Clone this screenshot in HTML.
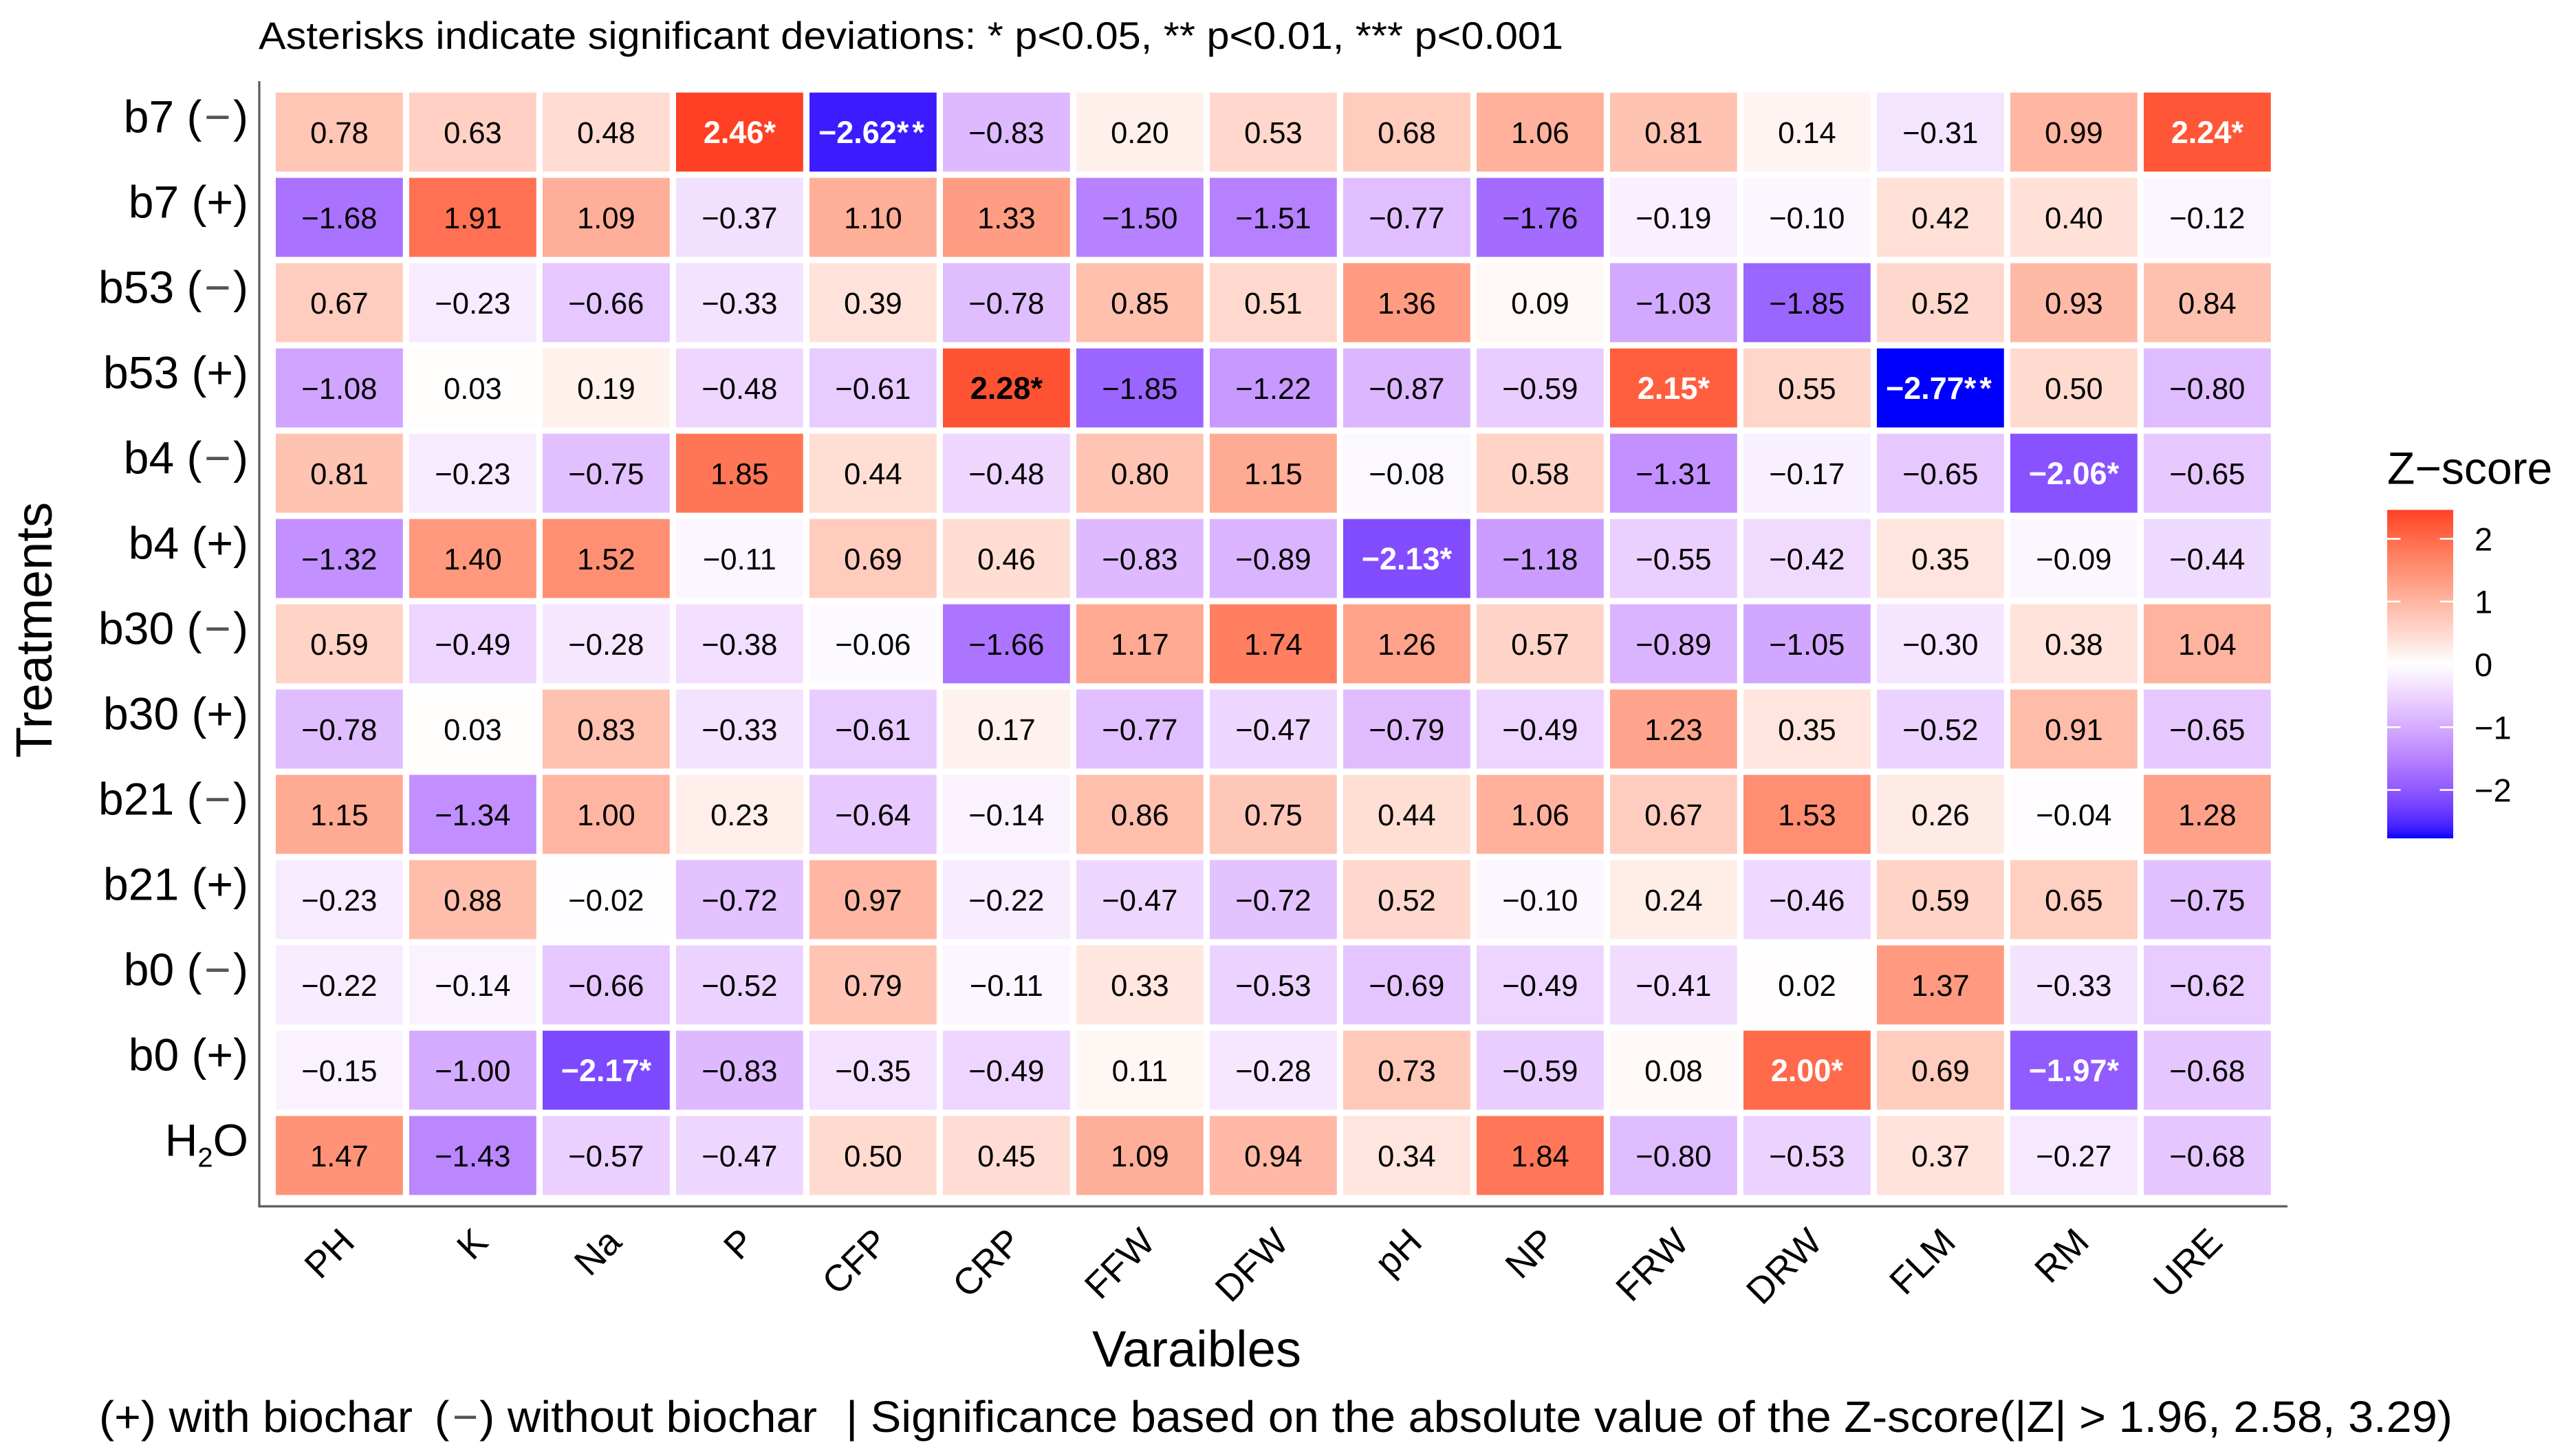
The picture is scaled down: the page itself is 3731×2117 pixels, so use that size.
<!DOCTYPE html>
<html lang="en">
<head>
<meta charset="utf-8">
<title>Z-score heatmap of treatments and variables</title>
<style>
html,body{margin:0;padding:0;background:#fff;}
svg{display:block;}
text{font-family:"Liberation Sans",Arial,sans-serif;fill:#000;}
</style>
</head>
<body>
<svg id="chart" xmlns="http://www.w3.org/2000/svg" width="3731" height="2117" viewBox="0 0 3731 2117">
  <defs>
    <linearGradient id="legend-gradient" x1="0" y1="0" x2="0" y2="1"></linearGradient>
  </defs>
  <rect x="0" y="0" width="3731" height="2117" fill="#ffffff"/>
  <text x="376" y="71" font-size="56" textLength="1897" lengthAdjust="spacingAndGlyphs">Asterisks indicate significant deviations: * p&lt;0.05, ** p&lt;0.01, *** p&lt;0.001</text>
  <g id="cells"></g>
  <g id="cell-values"></g>
  <line x1="377" y1="118" x2="377" y2="1755.5" stroke="#5c5c5c" stroke-width="3.2"/>
  <line x1="375.5" y1="1754" x2="3326" y2="1754" stroke="#5c5c5c" stroke-width="3.2"/>
  <g id="y-ticks"></g>
  <g id="x-ticks"></g>
  <text transform="translate(75,916) rotate(-90)" text-anchor="middle" font-size="74" textLength="372" lengthAdjust="spacingAndGlyphs">Treatments</text>
  <text x="1740" y="1987" text-anchor="middle" font-size="74" textLength="304" lengthAdjust="spacingAndGlyphs">Varaibles</text>
  <text x="144" y="2082" font-size="64" textLength="456" lengthAdjust="spacingAndGlyphs">(+) with biochar</text>
  <text x="632" y="2082" font-size="64">(</text>
  <text x="658" y="2082" font-size="64" style="fill:#555555">−</text>
  <text x="697" y="2082" font-size="64" textLength="491" lengthAdjust="spacingAndGlyphs">) without biochar</text>
  <text x="1230" y="2082" font-size="64" textLength="2336" lengthAdjust="spacingAndGlyphs">| Significance based on the absolute value of the Z-score(|Z| &gt; 1.96, 2.58, 3.29)</text>
  <text x="3471" y="703.5" font-size="66">Z−score</text>
  <rect id="legend-bar" x="3471" width="96" fill="url(#legend-gradient)"/>
  <g id="legend-ticks"></g>
</svg>
<script>
// ---------- Categories ----------
const rowLabels = ['b7 (−)','b7 (+)','b53 (−)','b53 (+)','b4 (−)','b4 (+)','b30 (−)','b30 (+)','b21 (−)','b21 (+)','b0 (−)','b0 (+)','H₂O'];
const colLabels = ['PH','K','Na','P','CFP','CRP','FFW','DFW','pH','NP','FRW','DRW','FLM','RM','URE'];
const legendTickValues = [2,1,0,-1,-2];

// ---------- Z-score values, one array per treatment ----------
const zB7Minus  = [0.78,0.63,0.48,2.46,-2.62,-0.83,0.20,0.53,0.68,1.06,0.81,0.14,-0.31,0.99,2.24];
const zB7Plus   = [-1.68,1.91,1.09,-0.37,1.10,1.33,-1.50,-1.51,-0.77,-1.76,-0.19,-0.10,0.42,0.40,-0.12];
const zB53Minus = [0.67,-0.23,-0.66,-0.33,0.39,-0.78,0.85,0.51,1.36,0.09,-1.03,-1.85,0.52,0.93,0.84];
const zB53Plus  = [-1.08,0.03,0.19,-0.48,-0.61,2.28,-1.85,-1.22,-0.87,-0.59,2.15,0.55,-2.77,0.50,-0.80];
const zB4Minus  = [0.81,-0.23,-0.75,1.85,0.44,-0.48,0.80,1.15,-0.08,0.58,-1.31,-0.17,-0.65,-2.06,-0.65];
const zB4Plus   = [-1.32,1.40,1.52,-0.11,0.69,0.46,-0.83,-0.89,-2.13,-1.18,-0.55,-0.42,0.35,-0.09,-0.44];
const zB30Minus = [0.59,-0.49,-0.28,-0.38,-0.06,-1.66,1.17,1.74,1.26,0.57,-0.89,-1.05,-0.30,0.38,1.04];
const zB30Plus  = [-0.78,0.03,0.83,-0.33,-0.61,0.17,-0.77,-0.47,-0.79,-0.49,1.23,0.35,-0.52,0.91,-0.65];
const zB21Minus = [1.15,-1.34,1.00,0.23,-0.64,-0.14,0.86,0.75,0.44,1.06,0.67,1.53,0.26,-0.04,1.28];
const zB21Plus  = [-0.23,0.88,-0.02,-0.72,0.97,-0.22,-0.47,-0.72,0.52,-0.10,0.24,-0.46,0.59,0.65,-0.75];
const zB0Minus  = [-0.22,-0.14,-0.66,-0.52,0.79,-0.11,0.33,-0.53,-0.69,-0.49,-0.41,0.02,1.37,-0.33,-0.62];
const zB0Plus   = [-0.15,-1.00,-2.17,-0.83,-0.35,-0.49,0.11,-0.28,0.73,-0.59,0.08,2.00,0.69,-1.97,-0.68];
const zH2O      = [1.47,-1.43,-0.57,-0.47,0.50,0.45,1.09,0.94,0.34,1.84,-0.80,-0.53,0.37,-0.27,-0.68];
const zValues = [zB7Minus,zB7Plus,zB53Minus,zB53Plus,zB4Minus,zB4Plus,zB30Minus,zB30Plus,zB21Minus,zB21Plus,zB0Minus,zB0Plus,zH2O];

// Significant printed values that use dark instead of white ink ("row:col").
const darkInkCells = ['3:5'];

const SVGNS = 'http://www.w3.org/2000/svg';
const svgEl = (tag) => document.createElementNS(SVGNS, tag);

// ---------- Axis functions ----------
const xStart = 401, xStep = 194, cellW = 184.8;
const yStart = 134.6, yStep = 124, cellH = 114.9;
const xCell = (c) => xStart + c * xStep;
const yCell = (r) => yStart + r * yStep;

const allZ = zValues.flat();
const zMin = Math.min(...allZ), zMax = Math.max(...allZ);
const zAbs = Math.max(Math.abs(zMin), Math.abs(zMax));
const legendZero = 966, legendUnit = 91.3;
const yLegend = (v) => legendZero - v * legendUnit;

// ---------- Diverging colour scale, interpolated in CIE Lab ----------
function rgbToLab(r,g,b){
  const f = (v) => { v/=255; return v>0.04045 ? Math.pow((v+0.055)/1.055,2.4) : v/12.92; };
  const R=f(r),G=f(g),B=f(b);
  const X=(0.4124564*R+0.3575761*G+0.1804375*B)/0.95047;
  const Y=(0.2126729*R+0.7151522*G+0.0721750*B);
  const Z=(0.0193339*R+0.1191920*G+0.9503041*B)/1.08883;
  const h=(t)=> t>0.008856 ? Math.cbrt(t) : 7.787*t+16/116;
  return [116*h(Y)-16, 500*(h(X)-h(Y)), 200*(h(Y)-h(Z))];
}
function labToRgb(L,a,b){
  const fy=(L+16)/116, fx=fy+a/500, fz=fy-b/200;
  const inv=(t)=> t*t*t>0.008856 ? t*t*t : (t-16/116)/7.787;
  const X=inv(fx)*0.95047, Y=inv(fy), Z=inv(fz)*1.08883;
  const lin=[
    3.2404542*X-1.5371385*Y-0.4985314*Z,
    -0.9692660*X+1.8760108*Y+0.0415560*Z,
    0.0556434*X-0.2040259*Y+1.0572252*Z
  ];
  return lin.map((v)=>{
    v=Math.min(1,Math.max(0,v));
    const s=v<=0.0031308 ? 12.92*v : 1.055*Math.pow(v,1/2.4)-0.055;
    return s*255;
  });
}
const toHex = (rgb) => '#'+rgb.map((v)=>Math.round(Math.min(255,Math.max(0,v))).toString(16).padStart(2,'0')).join('');
const labWhite = rgbToLab(255,255,255), labRed = rgbToLab(255,0,0), labBlue = rgbToLab(0,0,255);
function zColor(z){
  const t = Math.min(1, Math.abs(z)/zAbs);
  const end = z>=0 ? labRed : labBlue;
  const rgb = labToRgb(labWhite[0]+(end[0]-labWhite[0])*t, labWhite[1]+(end[1]-labWhite[1])*t, labWhite[2]+(end[2]-labWhite[2])*t);
  // Small tone correction for the figure's colour rendering.
  const bump = t*(1-t);
  if (z<0) { rgb[0]+=45*bump; }
  else { rgb[1]-=20*bump; rgb[2]-=10*bump; }
  return toHex(rgb);
}
const fmt = (v) => (v<0 ? '−' : '') + Math.abs(v).toFixed(2);
const stars = (v) => { const a=Math.abs(v); return a>=3.29 ? '***' : a>=2.58 ? '**' : a>=1.96 ? '*' : ''; };

// ---------- Heatmap cells and printed values ----------
const cellsG = document.getElementById('cells');
const valuesG = document.getElementById('cell-values');
zValues.forEach((rowVals, r) => {
  rowVals.forEach((v, c) => {
    const rect = svgEl('rect');
    
    
    rect.setAttribute('x', xCell(c));
    rect.setAttribute('y', yCell(r));
    rect.setAttribute('width', cellW);
    rect.setAttribute('height', cellH);
    rect.setAttribute('fill', zColor(v));
    cellsG.appendChild(rect);

    const s = stars(v);
    const label = svgEl('text');
    
    
    label.setAttribute('x', xCell(c) + cellW/2);
    label.setAttribute('y', yCell(r) + cellH/2 + 16);
    label.setAttribute('text-anchor', 'middle');
    label.setAttribute('font-size', s ? '45' : '43.5');
    label.textContent = fmt(v);
    if (s) {
      label.setAttribute('font-weight', 'bold');
      label.style.fill = darkInkCells.includes(r + ':' + c) ? '#000000' : '#ffffff';
      const starSpan = svgEl('tspan');
      if (s.length > 1) starSpan.setAttribute('letter-spacing', '5');
      starSpan.textContent = s;
      label.appendChild(starSpan);
    }
    valuesG.appendChild(label);
  });
});

// ---------- Y tick labels ----------
const yTicksG = document.getElementById('y-ticks');
rowLabels.forEach((name, r) => {
  const t = svgEl('text');
  
  
  t.setAttribute('x', 361);
  t.setAttribute('y', yCell(r) + cellH/2 + 0.5);
  t.setAttribute('text-anchor', 'end');
  t.setAttribute('font-size', '66');
  if (name.includes('₂')) {
    const parts = name.split('₂');
    t.appendChild(document.createTextNode(parts[0]));
    const sub = svgEl('tspan');
    sub.setAttribute('font-size', '40');
    sub.setAttribute('dy', '16');
    sub.textContent = '2';
    t.appendChild(sub);
    const rest = svgEl('tspan');
    rest.setAttribute('dy', '-16');
    rest.textContent = parts[1];
    t.appendChild(rest);
  } else if (name.includes('−')) {
    const parts = name.split('−');
    t.appendChild(document.createTextNode(parts[0]));
    const minus = svgEl('tspan');
    minus.setAttribute('dx', '3.5');
    minus.style.fill = '#555555';
    minus.textContent = '−';
    t.appendChild(minus);
    const close = svgEl('tspan');
    close.setAttribute('dx', '3.5');
    close.textContent = parts[1];
    t.appendChild(close);
  } else {
    t.textContent = name;
  }
  yTicksG.appendChild(t);
});

// ---------- X tick labels ----------
const xTicksG = document.getElementById('x-ticks');
colLabels.forEach((name, c) => {
  const t = svgEl('text');
  
  
  const px = xCell(c) + cellW/2 + 25, py = 1809;
  t.setAttribute('transform', 'translate(' + px + ',' + py + ') rotate(-45)');
  t.setAttribute('text-anchor', 'end');
  t.setAttribute('font-size', '54');
  t.textContent = name;
  xTicksG.appendChild(t);
});

// ---------- Legend colourbar ----------
const legendBar = document.getElementById('legend-bar');
legendBar.setAttribute('y', yLegend(zMax));
legendBar.setAttribute('height', yLegend(zMin) - yLegend(zMax));
const grad = document.getElementById('legend-gradient');
for (let i = 0; i <= 60; i++) {
  const f = i / 60;
  const stop = svgEl('stop');
  stop.setAttribute('offset', f);
  stop.setAttribute('stop-color', zColor(zMax + (zMin - zMax) * f));
  grad.appendChild(stop);
}
const legendTicksG = document.getElementById('legend-ticks');
legendTickValues.forEach((v) => {
  const y = yLegend(v);
  if (v !== 0) {
    [[3471, 3490.5], [3547.5, 3567]].forEach((seg) => {
      const l = svgEl('line');
      
      
      l.setAttribute('x1', seg[0]);
      l.setAttribute('x2', seg[1]);
      l.setAttribute('y1', y);
      l.setAttribute('y2', y);
      l.setAttribute('stroke', '#ffffff');
      l.setAttribute('stroke-width', '2.6');
      legendTicksG.appendChild(l);
    });
  }
  const t = svgEl('text');
  
  
  t.setAttribute('x', 3598);
  t.setAttribute('y', y + 17);
  t.setAttribute('font-size', '47');
  t.textContent = (v < 0 ? '−' : '') + Math.abs(v);
  legendTicksG.appendChild(t);
});
</script>
</body>
</html>
